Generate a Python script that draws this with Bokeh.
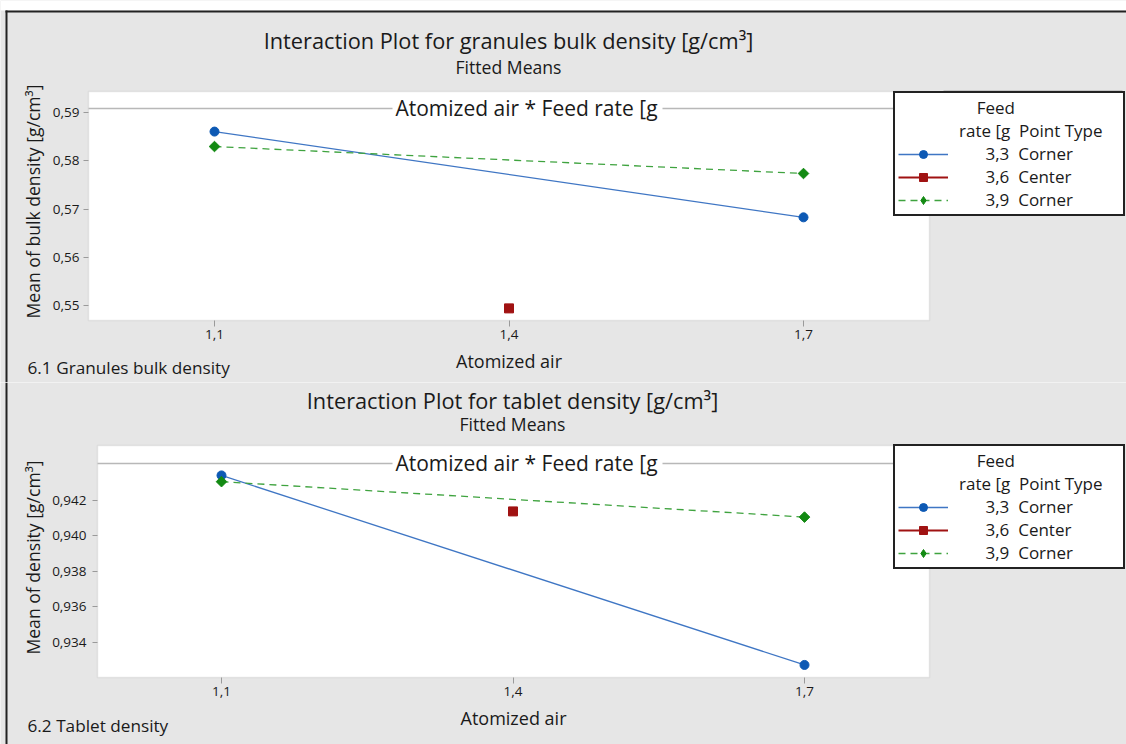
import numpy as np
from bokeh.plotting import figure
from bokeh.layouts import column
from bokeh.models import Range1d, FixedTicker, Label, Legend, LegendItem, BoxAnnotation
from bokeh.embed import file_html
from bokeh.resources import INLINE

# ---------------- data ----------------
atomized_air_ticks = [1.1, 1.4, 1.7]
atomized_air_tick_labels = ["1,1", "1,4", "1,7"]
feed_rate_labels = ["3,3", "3,6", "3,9"]
point_type_labels = ["Corner", "Center", "Corner"]

# Panel 6.1 granules bulk density (fitted means)
bulk_x_33 = [1.1, 1.7]
bulk_y_33 = [0.5861, 0.5683]
bulk_x_36 = [1.4]
bulk_y_36 = [0.5494]
bulk_x_39 = [1.1, 1.7]
bulk_y_39 = [0.5830, 0.5774]
bulk_yticks = [0.55, 0.56, 0.57, 0.58, 0.59]
bulk_ytick_labels = ["0,55", "0,56", "0,57", "0,58", "0,59"]

# Panel 6.2 tablet density (fitted means)
tab_x_33 = [1.1, 1.7]
tab_y_33 = [0.94338, 0.93274]
tab_x_36 = [1.4]
tab_y_36 = [0.94136]
tab_x_39 = [1.1, 1.7]
tab_y_39 = [0.94303, 0.94104]
tab_yticks = [0.934, 0.936, 0.938, 0.940, 0.942]
tab_ytick_labels = ["0,934", "0,936", "0,938", "0,940", "0,942"]

# ---------------- style ----------------
W = 1126
BG = "#e6e6e6"
TXT = "#1a1a1a"
FONT = "Open Sans"
BLUE_L, BLUE_M = "#3f76c4", "#0d59b4"
RED = "#a01212"
GREEN_L, GREEN_M = "#3fa33f", "#138a13"
GREY = "#b8b8b8"
NB = "\u00a0"


def lin_range(px_a, px_b, v_a, v_b, px_start, px_end):
    k = (v_b - v_a) / (px_b - px_a)
    return v_a + (px_start - px_a) * k, v_a + (px_end - px_a) * k


def make_panel(g, xs, ys, yticks, ylabels, ylabel, title, caption, first_panel):
    H = g["H"]
    x0, x1 = lin_range(g["xt"][0], g["xt"][1], 1.1, 1.7, 0, W)
    yb, yt = lin_range(g["yt"][0], g["yt"][1], g["ytv"][0], g["ytv"][1], H, 0)
    p = figure(width=W, height=H, x_range=Range1d(x0, x1), y_range=Range1d(yb, yt),
               output_backend="svg", toolbar_location=None,
               min_border_left=0, min_border_right=0, min_border_top=0, min_border_bottom=0)
    p.border_fill_color = BG
    p.background_fill_color = BG
    p.outline_line_color = None
    p.grid.visible = False

    PL, PR, PT, PB = g["plot"]
    S = dict(x_units="screen", y_units="screen")
    B = dict(left_units="screen", right_units="screen", top_units="screen", bottom_units="screen")

    def box(l, r, t, b, fill, line=None, level="underlay", lw=1.5):
        p.add_layout(BoxAnnotation(left=l, right=r, top=H - t, bottom=H - b, level=level,
                                   fill_color=fill, fill_alpha=1, line_color=line,
                                   line_width=lw, **B))

    # white plotting region with grey outline and facet-header rule
    box(PL, PR, PT, PB, "white", GREY)
    hx = g["hdr_x"]
    box(PL, hx - 134, g["hdr"] - 0.75, g["hdr"] + 0.75, GREY)
    box(hx + 136, PR, g["hdr"] - 0.75, g["hdr"] + 0.75, GREY)
    if first_panel:
        box(943, 1122, PT - 1.5, PT, "#c4c4c4")

    # axes pinned to the plotting region
    for ax in (p.xaxis[0], p.yaxis[0]):
        ax.axis_line_color = None
        ax.major_tick_line_color = "#9a9a9a"
        ax.major_tick_in = 0
        ax.minor_tick_line_color = None
        ax.major_label_text_font = FONT
        ax.major_label_text_font_size = "13.5px"
        ax.major_label_text_color = TXT
    p.xaxis.ticker = FixedTicker(ticks=atomized_air_ticks)
    p.xaxis.major_label_overrides = dict(zip(atomized_air_ticks, atomized_air_tick_labels))
    p.xaxis.major_tick_out = 6
    p.xaxis.major_label_standoff = 3
    p.xaxis.fixed_location = yb + (H - PB) / H * (yt - yb)
    p.yaxis.ticker = FixedTicker(ticks=yticks)
    p.yaxis.major_label_overrides = dict(zip(yticks, ylabels))
    p.yaxis.major_tick_out = 5
    p.yaxis.major_label_standoff = g["ystand"]
    p.yaxis.fixed_location = x0 + PL / W * (x1 - x0)

    (x33, x36, x39), (y33, y36, y39) = xs, ys
    l33 = p.line(x33, y33, line_color=BLUE_L, line_width=1.3)
    m33 = p.scatter(x33, y33, marker="circle", size=9, fill_color=BLUE_M, line_color=BLUE_M)
    l36 = p.line(x36, y36, line_color=RED, line_width=1.8)
    m36 = p.scatter(x36, y36, marker="square", size=9, fill_color=RED, line_color=RED)
    l39 = p.line(x39, y39, line_color=GREEN_L, line_width=1.3, line_dash="7 5")
    p.scatter(x39, y39, marker="square", angle=np.pi / 4, size=7.5,
              fill_color=GREEN_M, line_color=GREEN_M)
    # legend-only swatch for the diamond (legend swatches are drawn unrotated)
    m39_key = p.scatter([np.nan], [np.nan], marker="diamond", size=12,
                        fill_color=GREEN_M, line_color=GREEN_M)
    dummy = p.scatter([np.nan], [np.nan], marker="circle", size=1, alpha=0)

    def txt(x, y, text, size, align="center", angle=0.0, baseline="middle", **kw):
        p.add_layout(Label(x=x, y=H - y, text=text, text_align=align, text_baseline=baseline,
                           text_font=FONT, text_font_size=size, text_color=TXT, angle=angle,
                           **S, **kw))

    txt(hx, g["hdr"] - 1, "Atomized air * Feed rate [g", "21px", baseline="alphabetic")
    txt(g["title"][0], g["title"][1], title, "21.75px")
    txt(g["title"][0], g["fitted"], "Fitted Means", "17.6px")
    txt(g["caption"][0], g["caption"][1], caption, "17.2px", align="left")
    txt((PL + PR) / 2, g["xlab"], "Atomized air", "18px")
    txt(g["ylab"][0], g["ylab"][1], ylabel, "17.6px", angle=np.pi / 2)

    # outer frame of the figure
    if first_panel:
        box(0, W, 0, 10, "white", level="annotation")
        box(5, W, 10, 12, "#222222", level="annotation")
        top_edge = 10
    else:
        top_edge = 0
    box(5, 7, top_edge, H, "#222222", level="annotation")

    # legend: two header rows + the three feed-rate series
    items = [
        LegendItem(label=NB * 4 + "Feed", renderers=[dummy]),
        LegendItem(label="rate [g" + NB * 2 + "Point Type" + NB * 4, renderers=[dummy]),
    ]
    for rend, fr_lab, pt_lab in zip([[l33, m33], [l36, m36], [l39, m39_key]],
                                    feed_rate_labels, point_type_labels):
        items.append(LegendItem(label=NB * 6 + fr_lab + NB * 2 + pt_lab, renderers=rend))
    leg = Legend(items=items, location=(893, H - g["leg_bottom"]), glyph_width=50, glyph_height=20,
                 label_height=20, label_standoff=11, padding=3, spacing=0, margin=0,
                 border_line_color="#222222", border_line_width=2, border_line_alpha=1,
                 background_fill_color="white", background_fill_alpha=1,
                 label_text_font=FONT, label_text_font_size="17px", label_text_color=TXT)
    p.add_layout(leg)
    return p


H1 = 382
H2 = 744 - H1
geo1 = dict(H=H1, xt=(214, 803), yt=(112.3, 305), ytv=(0.59, 0.55), plot=(88, 929, 91, 320),
            hdr=108, hdr_x=526, ystand=4, title=(508, 40), fitted=66, caption=(27, 367),
            xlab=360, ylab=(32, 201), leg_bottom=216)
o = H1
geo2 = dict(H=H2, xt=(221, 804), yt=(499.5 - o, 642 - o), ytv=(0.942, 0.934),
            plot=(97, 929, 445 - o, 677 - o), hdr=463 - o, hdr_x=526, ystand=6,
            title=(512, 400 - o), fitted=423 - o, caption=(27, 725 - o), xlab=717 - o,
            ylab=(32, 557 - o), leg_bottom=569 - o)

p1 = make_panel(geo1, (bulk_x_33, bulk_x_36, bulk_x_39), (bulk_y_33, bulk_y_36, bulk_y_39),
                bulk_yticks, bulk_ytick_labels, "Mean of bulk density [g/cm\u00b3]",
                "Interaction Plot for granules bulk density [g/cm\u00b3]",
                "6.1 Granules bulk density", True)
p2 = make_panel(geo2, (tab_x_33, tab_x_36, tab_x_39), (tab_y_33, tab_y_36, tab_y_39),
                tab_yticks, tab_ytick_labels, "Mean of density [g/cm\u00b3]",
                "Interaction Plot for tablet density [g/cm\u00b3]",
                "6.2 Tablet density", False)

layout = column(p1, p2, spacing=0)
open("out.html", "w").write(file_html(layout, INLINE))
